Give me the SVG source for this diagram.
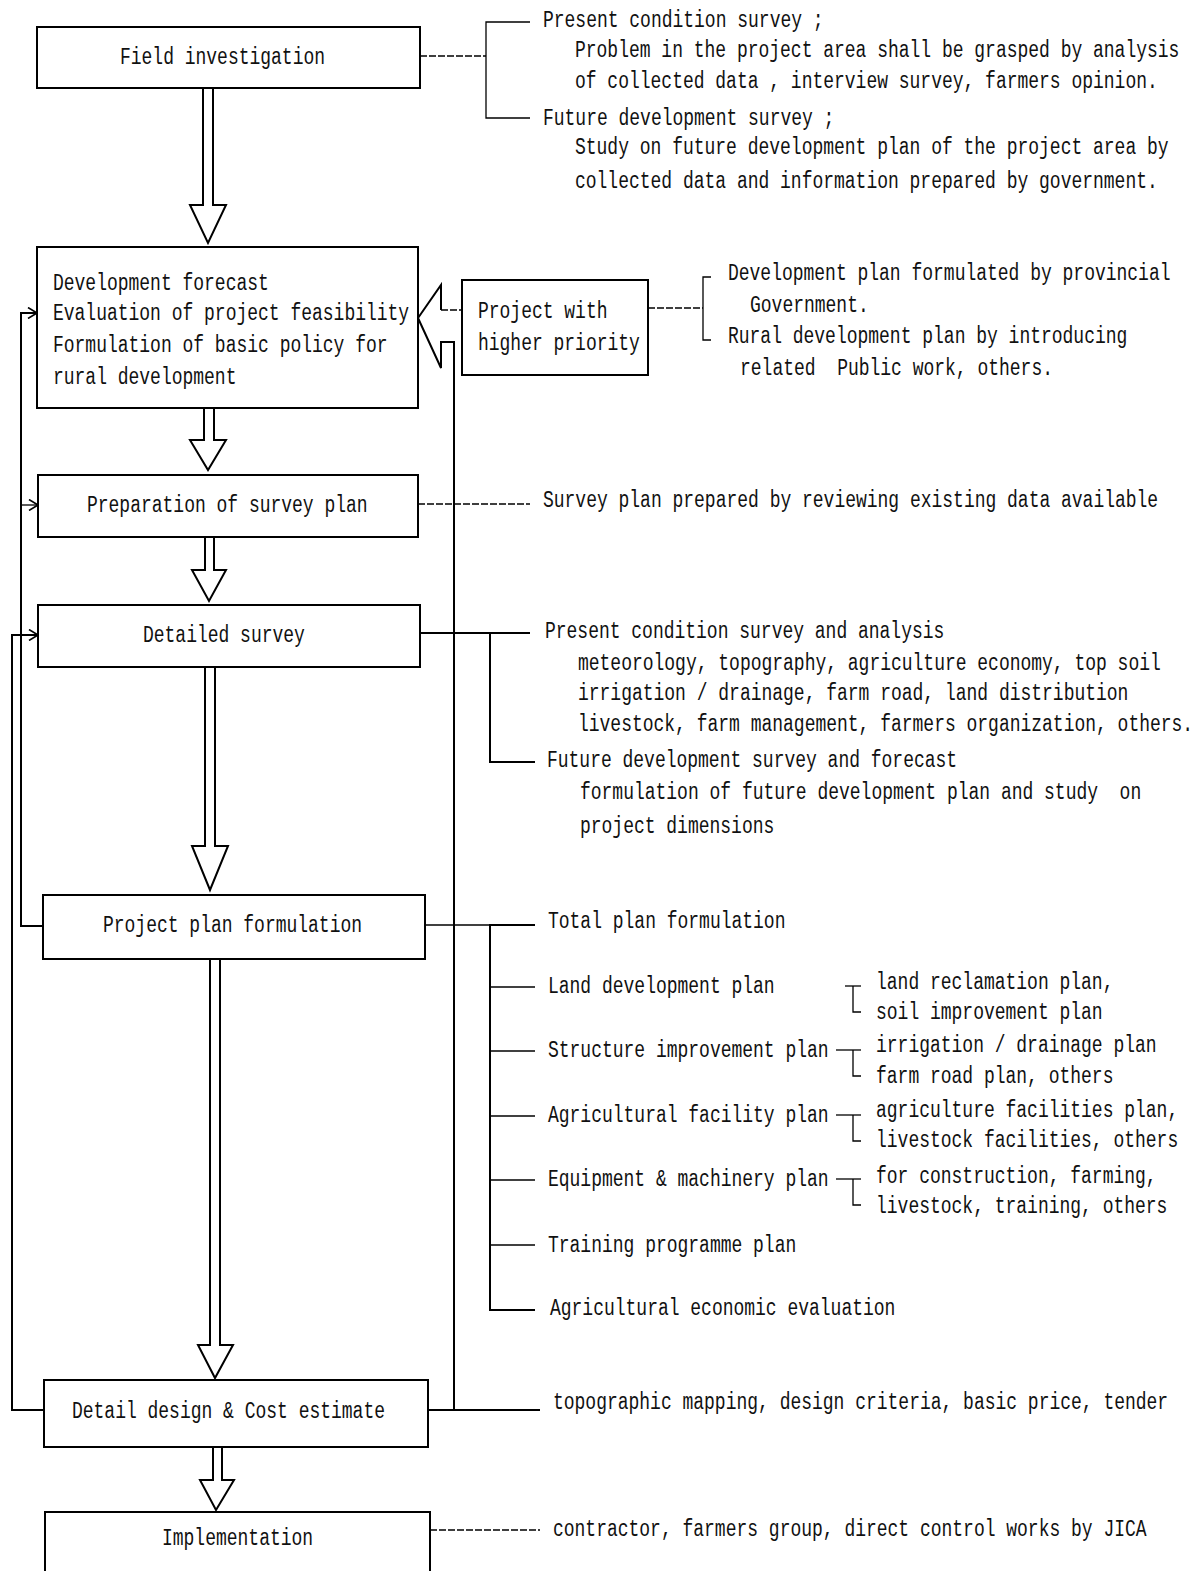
<svg xmlns="http://www.w3.org/2000/svg" width="1202" height="1571" viewBox="0 0 1202 1571">
<style>
  .bg{fill:#fff}
  .box{fill:#fff;stroke:#000;stroke-width:2}
  .t{font-family:"Liberation Mono","DejaVu Sans Mono",monospace;font-size:18px;fill:#111}
  .ln{fill:none;stroke:#000;stroke-width:2}
  .thin{fill:none;stroke:#000;stroke-width:1.3}
  .dash{fill:none;stroke:#000;stroke-width:1.3;stroke-dasharray:7 2}
  .harrow{fill:#fff;stroke:#000;stroke-width:2;stroke-linejoin:miter}
  .pre{white-space:pre}
</style>
<defs>
  <marker id="chev" viewBox="0 0 10 12" refX="10" refY="6" markerWidth="10" markerHeight="12" markerUnits="userSpaceOnUse" orient="auto">
    <path d="M1,0.5 L10,6 L1,11.5" fill="none" stroke="#000" stroke-width="1.6"/>
  </marker>
</defs>
<rect class="bg" x="0" y="0" width="1202" height="1571"/>

<g id="connectors">
  <polygon class="harrow" points="203,88 203,205 190,205 208,243 226,205 213,205 213,88"/>
  <polygon class="harrow" points="204,408 204,440 190,440 208,470 226,440 214,440 214,408"/>
  <polygon class="harrow" points="205,537 205,570 192,570 209,601 226,570 214,570 214,537"/>
  <polygon class="harrow" points="205,667 205,846 192,846 210,890 228,846 215,846 215,667"/>
  <polygon class="harrow" points="210,959 210,1345 198,1345 215,1378 233,1345 220,1345 220,959"/>
  <polygon class="harrow" points="213,1447 213,1480 200,1480 216,1510 234,1480 222,1480 222,1447"/>

  <polyline class="ln" points="441,310 441,285 418,318 441,368 441,342 454,342 454,1410"/>
  <line class="dash" x1="441" y1="310" x2="462" y2="310"/>

  <line class="dash" x1="420" y1="56" x2="486" y2="56"/>
  <polyline class="thin" points="530,22 486,22 486,118 530,118"/>

  <line class="dash" x1="648" y1="308" x2="703" y2="308"/>
  <polyline class="thin" points="711,277 703,277 703,340 711,340"/>

  <line class="dash" x1="418" y1="504" x2="530" y2="504"/>

  <line class="ln" x1="420" y1="633" x2="490" y2="633"/>
  <polyline class="ln" points="530,633 490,633 490,762 535,762"/>

  <line class="thin" x1="425" y1="925" x2="490" y2="925"/>
  <polyline class="ln" points="535,925 490,925 490,1310 535,1310"/>
  <line class="thin" x1="490" y1="987" x2="535" y2="987"/>
  <line class="thin" x1="490" y1="1051" x2="535" y2="1051"/>
  <line class="thin" x1="490" y1="1116" x2="535" y2="1116"/>
  <line class="thin" x1="490" y1="1180" x2="535" y2="1180"/>
  <line class="thin" x1="490" y1="1245" x2="535" y2="1245"/>

  <polyline class="thin" points="845,986 861,986"/>
  <polyline class="thin" points="853,986 853,1012 861,1012"/>
  <polyline class="thin" points="836,1050 861,1050"/>
  <polyline class="thin" points="853,1050 853,1076 861,1076"/>
  <polyline class="thin" points="836,1115 861,1115"/>
  <polyline class="thin" points="853,1115 853,1141 861,1141"/>
  <polyline class="thin" points="836,1179 861,1179"/>
  <polyline class="thin" points="853,1179 853,1205 861,1205"/>

  <line class="ln" x1="428" y1="1410" x2="540" y2="1410"/>
  <line class="dash" x1="430" y1="1530" x2="540" y2="1530"/>

  <polyline class="ln" points="43,926 21,926 21,313 37,313" marker-end="url(#chev)"/>
  <line class="thin" x1="21" y1="505" x2="38" y2="505" marker-end="url(#chev)"/>
  <polyline class="ln" points="44,1410 12,1410 12,635 38,635" marker-end="url(#chev)"/>
</g>

<g id="n-field">
  <rect class="box" x="37" y="27" width="383" height="61"/>
  <text class="t" x="120" y="0" transform="translate(0,64) scale(1,1.28)">Field investigation</text>
</g>
<g id="n-field-notes">
  <text class="t" x="543" y="0" transform="translate(0,27) scale(1,1.28)">Present condition survey ;</text>
  <text class="t" x="575" y="0" transform="translate(0,57) scale(1,1.28)">Problem in the project area shall be grasped by analysis</text>
  <text class="t" x="575" y="0" transform="translate(0,88) scale(1,1.28)">of collected data , interview survey, farmers opinion.</text>
  <text class="t" x="543" y="0" transform="translate(0,125) scale(1,1.28)">Future development survey ;</text>
  <text class="t" x="575" y="0" transform="translate(0,154) scale(1,1.28)">Study on future development plan of the project area by</text>
  <text class="t" x="575" y="0" transform="translate(0,188) scale(1,1.28)">collected data and information prepared by government.</text>
</g>

<g id="n-forecast">
  <rect class="box" x="37" y="247" width="381" height="161"/>
  <text class="t" x="53" y="0" transform="translate(0,290) scale(1,1.28)">Development forecast</text>
  <text class="t" x="53" y="0" transform="translate(0,320) scale(1,1.28)">Evaluation of project feasibility</text>
  <text class="t" x="53" y="0" transform="translate(0,352) scale(1,1.28)">Formulation of basic policy for</text>
  <text class="t" x="53" y="0" transform="translate(0,384) scale(1,1.28)">rural development</text>
</g>

<g id="n-priority">
  <rect class="box" x="462" y="280" width="186" height="95"/>
  <text class="t" x="478" y="0" transform="translate(0,318) scale(1,1.28)">Project with</text>
  <text class="t" x="478" y="0" transform="translate(0,350) scale(1,1.28)">higher priority</text>
</g>
<g id="n-priority-notes">
  <text class="t" x="728" y="0" transform="translate(0,280) scale(1,1.28)">Development plan formulated by provincial</text>
  <text class="t" x="750" y="0" transform="translate(0,312) scale(1,1.28)">Government.</text>
  <text class="t" x="728" y="0" transform="translate(0,343) scale(1,1.28)">Rural development plan by introducing</text>
  <text class="t pre" x="740" y="0" transform="translate(0,375) scale(1,1.28)">related  Public work, others.</text>
</g>

<g id="n-survey-plan">
  <rect class="box" x="38" y="475" width="380" height="62"/>
  <text class="t" x="87" y="0" transform="translate(0,512) scale(1,1.28)">Preparation of survey plan</text>
</g>
<g id="n-survey-plan-note">
  <text class="t" x="543" y="0" transform="translate(0,507) scale(1,1.28)">Survey plan prepared by reviewing existing data available</text>
</g>

<g id="n-detailed">
  <rect class="box" x="38" y="605" width="382" height="62"/>
  <text class="t" x="143" y="0" transform="translate(0,642) scale(1,1.28)">Detailed survey</text>
</g>
<g id="n-detailed-notes">
  <text class="t" x="545" y="0" transform="translate(0,638) scale(1,1.28)">Present condition survey and analysis</text>
  <text class="t" x="578" y="0" transform="translate(0,670) scale(1,1.28)">meteorology, topography, agriculture economy, top soil</text>
  <text class="t" x="578" y="0" transform="translate(0,700) scale(1,1.28)">irrigation / drainage, farm road, land distribution</text>
  <text class="t" x="578" y="0" transform="translate(0,731) scale(1,1.28)">livestock, farm management, farmers organization, others.</text>
  <text class="t" x="547" y="0" transform="translate(0,767) scale(1,1.28)">Future development survey and forecast</text>
  <text class="t pre" x="580" y="0" transform="translate(0,799) scale(1,1.28)">formulation of future development plan and study  on</text>
  <text class="t" x="580" y="0" transform="translate(0,833) scale(1,1.28)">project dimensions</text>
</g>

<g id="n-plan">
  <rect class="box" x="43" y="895" width="382" height="64"/>
  <text class="t" x="103" y="0" transform="translate(0,932) scale(1,1.28)">Project plan formulation</text>
</g>
<g id="n-plan-notes">
  <text class="t" x="548" y="0" transform="translate(0,928) scale(1,1.28)">Total plan formulation</text>
  <text class="t" x="548" y="0" transform="translate(0,993) scale(1,1.28)">Land development plan</text>
  <text class="t" x="548" y="0" transform="translate(0,1057) scale(1,1.28)">Structure improvement plan</text>
  <text class="t" x="548" y="0" transform="translate(0,1122) scale(1,1.28)">Agricultural facility plan</text>
  <text class="t" x="548" y="0" transform="translate(0,1186) scale(1,1.28)">Equipment &amp; machinery plan</text>
  <text class="t" x="548" y="0" transform="translate(0,1252) scale(1,1.28)">Training programme plan</text>
  <text class="t" x="550" y="0" transform="translate(0,1315) scale(1,1.28)">Agricultural economic evaluation</text>
  <text class="t" x="876" y="0" transform="translate(0,989) scale(1,1.28)">land reclamation plan,</text>
  <text class="t" x="876" y="0" transform="translate(0,1019) scale(1,1.28)">soil improvement plan</text>
  <text class="t" x="876" y="0" transform="translate(0,1052) scale(1,1.28)">irrigation / drainage plan</text>
  <text class="t" x="876" y="0" transform="translate(0,1083) scale(1,1.28)">farm road plan, others</text>
  <text class="t" x="876" y="0" transform="translate(0,1117) scale(1,1.28)">agriculture facilities plan,</text>
  <text class="t" x="876" y="0" transform="translate(0,1147) scale(1,1.28)">livestock facilities, others</text>
  <text class="t" x="876" y="0" transform="translate(0,1183) scale(1,1.28)">for construction, farming,</text>
  <text class="t" x="876" y="0" transform="translate(0,1213) scale(1,1.28)">livestock, training, others</text>
</g>

<g id="n-design">
  <rect class="box" x="44" y="1380" width="384" height="67"/>
  <text class="t" x="72" y="0" transform="translate(0,1418) scale(1,1.28)">Detail design &amp; Cost estimate</text>
</g>
<g id="n-design-note">
  <text class="t" x="553" y="0" transform="translate(0,1409) scale(1,1.28)">topographic mapping, design criteria, basic price, tender</text>
</g>

<g id="n-impl">
  <rect class="box" x="45" y="1512" width="385" height="70"/>
  <text class="t" x="162" y="0" transform="translate(0,1545) scale(1,1.28)">Implementation</text>
</g>
<g id="n-impl-note">
  <text class="t" x="553" y="0" transform="translate(0,1536) scale(1,1.28)">contractor, farmers group, direct control works by JICA</text>
</g>
</svg>
